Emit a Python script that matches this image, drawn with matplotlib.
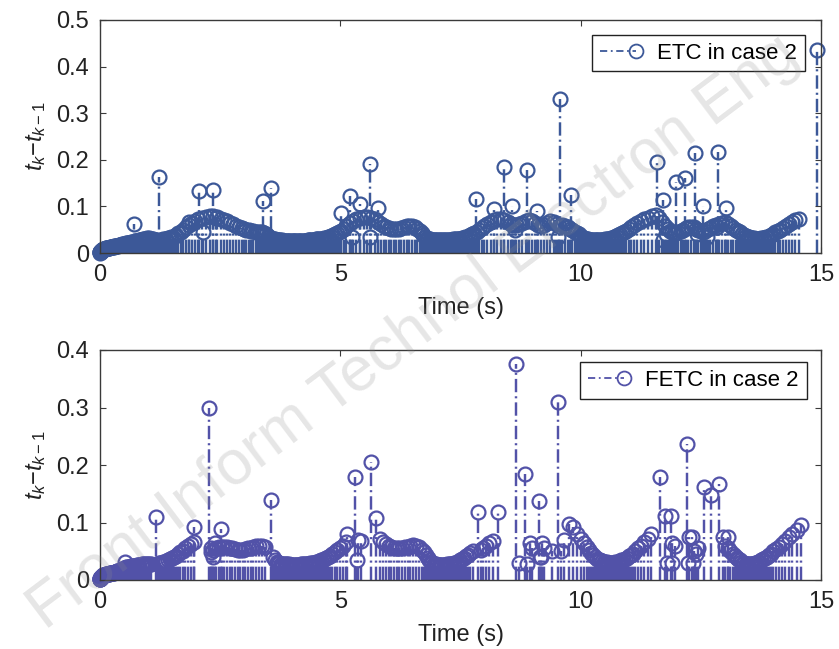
import numpy as np
import matplotlib
matplotlib.use('Agg')
import matplotlib.pyplot as plt
from matplotlib.lines import Line2D
from matplotlib.legend_handler import HandlerBase

plt.rcParams['font.family'] = ['Liberation Sans', 'DejaVu Sans']
plt.rcParams['mathtext.fontset'] = 'custom'
plt.rcParams['mathtext.rm'] = 'Liberation Sans'
plt.rcParams['mathtext.it'] = 'Liberation Sans:italic'

# ---------------- ETC in case 2 (top) : inter-event intervals t_k - t_{k-1} ----------------
etc_startup = [0.001,0.002,0.002,0.003,0.003,0.004,0.004,0.005,0.005,0.006,0.006,0.007,0.007,0.007,
               0.008,0.008,0.008,0.009,0.009,0.009,0.010,0.010,0.010,0.010,0.011,0.011,0.011,0.011,
               0.012,0.012,0.012,0.012,0.013,0.013,0.013,0.014,0.014,0.014,0.015,0.015]
etc_0_2s = [0.016,0.017,0.017,0.018,0.018,0.019,0.019,0.020,0.020,0.021,0.021,0.022,0.022,0.022,0.023,0.023,
            0.024,0.025,0.026,0.026,0.027,0.028,0.028,0.029,0.030,0.031,0.032,0.032,0.031,0.030,0.029,0.028,
            0.027,0.027,0.026,0.026,0.027,0.028,0.029,0.030,0.031,0.032,0.033,0.034,0.035,0.036,
            0.038,0.042,0.046,0.050,0.055,0.060,0.064,0.068,
            0.072,0.075,0.078,0.080,0.079,0.077,0.074,0.071]
etc_2_5s = [0.068,0.065,0.062,0.059,0.056,0.054,0.052,0.050,0.049,0.048,0.047,0.046,0.046,0.045,0.044,0.043,
            0.040,0.037,0.034,0.032,0.030,0.029,
            0.029,0.028,0.028,0.027,0.027,0.027,0.026,0.026,0.026,0.026,0.025,0.025,0.025,0.025,0.025,0.025,
            0.025,0.025,0.025,0.025,0.025,0.026,0.026,0.026,0.026,0.026,0.027,0.027,0.027,0.028,0.028,0.028,
            0.029,0.029,0.030,0.030,0.031,0.031,0.032,0.033,0.034,0.035,0.036,0.038,0.040,0.042,0.044,0.047]
etc_5_8s = [0.052,0.058,0.064,0.069,0.073,0.076,0.078,0.078,0.076,0.073,
            0.066,0.062,0.058,0.055,0.053,0.052,0.051,0.051,0.052,0.053,0.055,0.057,0.058,0.058,0.056,0.052,
            0.047,0.042,0.038,0.035,
            0.032,0.030,0.029,0.028,0.028,0.027,0.027,0.027,0.027,0.027,0.027,0.027,0.027,0.027,0.027,0.027,
            0.028,0.028,0.028,0.028,0.029,0.029,0.029,0.030,0.030,0.031,0.032,0.033,0.034,0.035,0.036,0.038,
            0.040,0.043,0.046,0.050,0.054,0.058,0.062,0.066,0.070,0.072]
etc_8_11s = [0.074,0.070,0.066,0.063,0.061,0.060,0.062,0.065,0.068,0.070,0.068,0.064,0.060,0.058,0.060,
             0.064,0.068,0.066,0.062,0.058,
             0.060,0.058,0.055,0.052,0.049,0.046,0.043,0.040,0.037,
             0.035,0.033,0.031,0.030,0.029,0.028,0.028,0.027,0.027,0.027,0.027,0.027,0.027,0.027,0.028,0.028,
             0.028,0.029,0.029,0.030,0.031,0.032,0.033,0.034,0.036,0.038,0.040,0.042,0.045]
etc_11_15s = [0.048,0.052,0.056,0.060,0.064,0.068,0.072,0.076,0.080,0.082,
              0.075,0.066,0.058,0.052,0.048,0.045,0.043,0.042,0.044,0.047,0.050,0.053,0.055,0.056,0.055,
              0.052,0.049,0.047,0.046,0.048,0.051,0.054,0.057,0.060,0.062,0.064,
              0.066,0.062,0.058,0.054,0.050,0.047,0.044,0.041,0.039,0.037,0.035,0.034,0.033,0.032,0.032,
              0.031,0.031,0.031,0.031,0.032,0.032,0.033,0.034,
              0.035,0.037,0.039,0.041,0.044,0.047,0.050,0.054,0.058,0.062,0.066,0.070,0.074]
# extra (overlapping) triggering events of the top panel
etc_extra_t = [0.70, 1.22, 1.85, 2.05, 2.15, 2.36, 2.42, 3.39, 3.55, 5.02, 5.20, 5.25, 5.40, 5.61, 5.62,
               5.78, 7.82, 8.20, 8.41, 8.57, 8.64, 8.88, 9.09, 9.52, 9.58, 9.79, 11.58, 11.72, 11.72,
               11.78, 11.99, 12.17, 12.37, 12.42, 12.55, 12.62, 12.83, 12.86, 13.03, 14.92]
etc_extra_v = [0.062, 0.163, 0.066, 0.133, 0.045, 0.135, 0.075, 0.112, 0.140, 0.086, 0.122, 0.035, 0.105,
               0.190, 0.035, 0.096, 0.115, 0.095, 0.185, 0.100, 0.050, 0.178, 0.090, 0.035, 0.330, 0.124,
               0.195, 0.114, 0.028, 0.040, 0.153, 0.160, 0.214, 0.040, 0.100, 0.035, 0.055, 0.217, 0.096,
               0.435]

# ---------------- FETC in case 2 (bottom) ----------------
fetc_startup = [0.001,0.001,0.002,0.002,0.003,0.003,0.004,0.004,0.005,0.005,0.006,0.006,0.007,0.007,
                0.008,0.008,0.008,0.009,0.009,0.009,0.010,0.010,0.010,0.010,0.011,0.011,0.011,0.011,
                0.012,0.012,0.012,0.012,0.013,0.013,0.013,0.013,0.014,0.014,0.014,0.015,0.015,0.015,
                0.016,0.016]
fetc_0_2s = [0.017,0.018,0.019,0.020,0.021,0.021,0.022,0.022,0.023,0.023,0.024,0.024,0.025,0.025,0.025,
             0.026,0.026,0.026,0.026,0.027,0.027,0.027,0.027,0.027,0.028,0.028,0.028,
             0.109,
             0.028,0.029,0.029,0.030,0.031,0.032,0.033,0.034,0.036,0.038,0.040,0.042,0.045,0.048,0.051,
             0.055,0.059,0.063,0.066,
             0.300]
fetc_2_5s = [0.048,0.052,0.055,0.057,0.058,0.058,0.057,0.056,0.055,0.054,0.053,0.053,0.053,0.054,0.055,
             0.056,0.058,0.059,0.060,0.059,0.057,
             0.140,
             0.040,0.035,0.032,0.030,0.029,0.028,0.028,0.027,0.027,0.027,0.027,0.027,0.026,0.026,0.026,
             0.026,0.026,0.026,0.026,0.026,0.026,0.027,0.027,0.027,0.027,0.028,0.028,0.028,0.029,0.029,
             0.030,0.030,0.031,0.032,0.033,0.034,0.035,0.036,0.038,0.040,0.042,0.045,0.048,0.052,0.056,
             0.060]
fetc_5_8s = [0.066, 0.179, 0.070, 0.068, 0.205, 0.107,
             0.072,0.066,0.062,0.059,0.057,0.056,0.055,0.055,0.056,0.057,0.058,0.060,0.061,0.060,0.057,
             0.053,0.048,0.043,0.038,
             0.034,0.031,0.029,0.028,0.027,0.027,0.026,0.026,0.026,0.026,0.026,0.026,0.026,0.026,0.027,
             0.027,0.027,0.028,0.028,0.029,0.030,0.031,0.032,0.034,0.036,0.038,0.041,0.044,0.047,0.051,
             0.118, 0.052, 0.056, 0.060, 0.064, 0.068, 0.118]
fetc_8_11s = [0.375, 0.185, 0.028, 0.065, 0.055, 0.138, 0.040, 0.055, 0.309,
              0.050,0.070,0.098,0.092,0.080,0.072,0.065,0.058,0.052,0.047,
              0.043,0.040,0.037,0.035,0.034,0.033,0.032,0.031,0.031,0.030,0.030,0.030,0.030,0.030,0.031,
              0.031,0.032,0.033,0.034,0.035,0.037,0.039,0.041,0.043,0.046]
fetc_11_15s = [0.050,0.055,0.060,0.066,0.072,0.080,
               0.179,0.112,0.112,0.030,0.060,0.237,0.030,0.075,0.050,0.045,0.161,0.147,0.167,0.074,
               0.060,0.055,0.050,0.046,0.042,0.039,0.036,0.034,0.032,0.030,0.029,0.028,0.028,0.027,0.027,
               0.027,0.028,0.028,0.029,0.030,0.031,0.032,0.034,
               0.036,0.038,0.040,0.043,0.046,0.050,0.054,0.058,0.063,0.068,0.074,0.080,0.087,0.095]
fetc_extra_t = [0.53, 1.95, 2.30, 2.35, 2.40, 2.52, 5.13, 5.35, 8.72, 9.15, 9.20, 9.40, 11.80, 11.90,
                12.25, 12.33, 12.45, 13.07]
fetc_extra_v = [0.031, 0.093, 0.055, 0.040, 0.065, 0.088, 0.080, 0.034, 0.030, 0.040, 0.065, 0.050, 0.030,
                0.065, 0.075, 0.030, 0.055, 0.074]

x_ticks = [0, 5, 10, 15]
etc_yticks = [0, 0.1, 0.2, 0.3, 0.4, 0.5]
fetc_yticks = [0, 0.1, 0.2, 0.3, 0.4]

etc_color = '#3c5898'
fetc_color = '#5252a8'
STEM_LW = 1.75
# dash-dot pattern (dash, gap, dot, gap) in points, divided by line width (dashes are scaled by lw)
DASHDOT = (0, (9.6 / STEM_LW, 2.9 / STEM_LW, 1.5 / STEM_LW, 2.9 / STEM_LW))

etc_int = np.concatenate([etc_startup, etc_0_2s, etc_2_5s, etc_5_8s, etc_8_11s, etc_11_15s])
etc_t = np.cumsum(etc_int)
fetc_int = np.concatenate([fetc_startup, fetc_0_2s, fetc_2_5s, fetc_5_8s, fetc_8_11s, fetc_11_15s])
fetc_t = np.cumsum(fetc_int)

W, H = 839, 649
fig = plt.figure(figsize=(W / 100, H / 100), dpi=100)
ax1 = fig.add_axes([100 / W, 1 - 253 / H, 721 / W, 233 / H])
ax2 = fig.add_axes([100 / W, 1 - 580 / H, 721 / W, 230 / H])


def draw_stems(ax, t, v, color):
    ml, sl, bl = ax.stem(t, v)
    sl.set_color(color)
    sl.set_linewidth(STEM_LW)
    sl.set_linestyle(DASHDOT)
    ml.set_marker('o')
    ml.set_markerfacecolor('none')
    ml.set_markeredgecolor(color)
    ml.set_markersize(10)
    ml.set_markeredgewidth(1.6)
    ml.set_clip_on(False)
    bl.set_visible(False)


class StemHandler(HandlerBase):
    def create_artists(self, legend, orig_handle, xdescent, ydescent, width, height, fontsize, trans):
        c = orig_handle.get_color()
        y = height / 2 - ydescent
        x0 = -xdescent
        x1 = width - xdescent
        ln = Line2D([x0, x1 - 6], [y, y], color=c, lw=1.3, linestyle=(0, (4, 2, 1, 2)))
        mk = Line2D([x1 - 6], [y], marker='o', ms=10, mfc='none', mec=c, mew=1.3, ls='none')
        ln.set_transform(trans)
        mk.set_transform(trans)
        return [ln, mk]


def style(ax, yticks, ymax, color, label, anchor):
    ax.set_xlim(0, 15)
    ax.set_ylim(0, ymax)
    ax.set_xticks(x_ticks)
    ax.set_xticklabels([str(x) for x in x_ticks])
    ax.set_yticks(yticks)
    ax.set_yticklabels(['0' if y == 0 else f'{y:g}' for y in yticks])
    ax.tick_params(direction='in', top=True, right=True, length=4, width=0.8,
                   labelsize=17, pad=8, colors='#3a3a3a', labelcolor='#222222')
    for s in ax.spines.values():
        s.set_color('#3a3a3a')
        s.set_linewidth(1.0)
    ax.set_xlabel('Time (s)', fontsize=17, labelpad=8, color='#222222')
    ax.set_ylabel(r'$t_k{-}t_{k-1}$', fontsize=17, labelpad=6, color='#222222')
    proxy = Line2D([], [], color=color)
    leg = ax.legend([proxy], [label], handler_map={Line2D: StemHandler()},
                    loc='upper right', bbox_to_anchor=anchor, borderaxespad=0,
                    fontsize=16, fancybox=False, framealpha=1, edgecolor='#222222',
                    handlelength=2.0, handletextpad=0.6, borderpad=0.35)
    leg.get_frame().set_linewidth(1.0)


draw_stems(ax1, etc_t, etc_int, etc_color)
draw_stems(ax1, etc_extra_t, etc_extra_v, etc_color)
draw_stems(ax2, fetc_t, fetc_int, fetc_color)
draw_stems(ax2, fetc_extra_t, fetc_extra_v, fetc_color)

style(ax1, etc_yticks, 0.5, etc_color, 'ETC in case 2', (0.978, 0.936))
style(ax2, fetc_yticks, 0.4, fetc_color, 'FETC in case 2', (0.98, 0.948))

fig.text(0.054, 0.029, 'Front Inform Technol Electron Eng', rotation=37, rotation_mode='anchor',
         ha='left', va='baseline', fontsize=45, color='0.55', alpha=0.22, zorder=10)

fig.savefig('out.png', dpi=100)
